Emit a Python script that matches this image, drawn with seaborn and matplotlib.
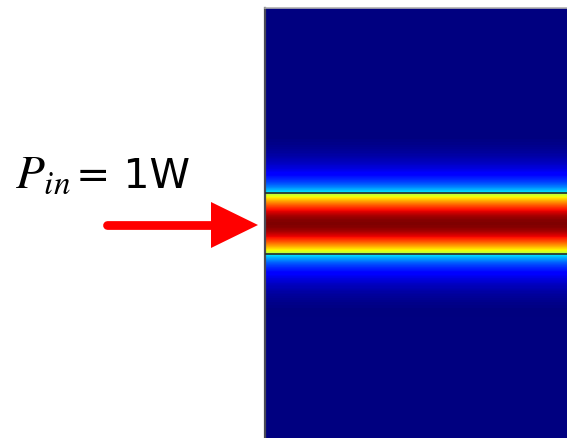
import numpy as np
import matplotlib
matplotlib.use("Agg")
import matplotlib.pyplot as plt
from matplotlib.patches import Rectangle, Polygon
from matplotlib.lines import Line2D
import seaborn as sns

# Normalised mode intensity |E|^2 across the slab waveguide.
# Offsets are measured from the core centre, in units of the core width.
core_offset = [0.00, 0.05, 0.10, 0.15, 0.20, 0.25, 0.30, 0.35, 0.40, 0.45, 0.50]
core_intensity = [1.000, 0.994, 0.978, 0.951, 0.914, 0.869, 0.817, 0.758, 0.694, 0.625, 0.555]

clad_offset = [0.50, 0.55, 0.60, 0.65, 0.70, 0.75, 0.80, 0.85, 0.90, 0.95, 1.00,
               1.05, 1.10, 1.15, 1.20, 1.25, 1.30, 1.35, 1.40, 1.45, 1.50]
clad_intensity = [0.370, 0.305, 0.255, 0.212, 0.178, 0.150, 0.125, 0.103, 0.085, 0.070, 0.057,
                  0.046, 0.036, 0.028, 0.021, 0.015, 0.010, 0.006, 0.003, 0.001, 0.000]

core_half_width = 0.5
input_power_label = "= 1W"

sns.set_style("white")
plt.rcParams["mathtext.fontset"] = "stix"
cmap = matplotlib.colormaps["jet"]

W, H, DPI = 567, 438, 100
fig = plt.figure(figsize=(W / DPI, H / DPI), dpi=DPI)

# Field map axes: left and top edges visible, the rest runs off the page.
half_span = 3.55
ax = fig.add_axes([265 / W, 1 - 439.7 / H, 330 / W, 431.7 / H])
ax.set_facecolor(cmap(0.0))
ax.set_xlim(0, 1)
ax.set_ylim(-half_span, half_span)


def draw_band(offsets, values, lo, hi):
    offsets = np.asarray(offsets)
    values = np.asarray(values)[:, None]
    step = offsets[1] - offsets[0]
    im = ax.imshow(values, extent=(0, 1, offsets[0] - step / 2, offsets[-1] + step / 2),
                   origin="lower", aspect="auto", interpolation="bilinear",
                   cmap=cmap, vmin=0, vmax=1, zorder=1)
    im.set_clip_path(Rectangle((0, lo), 1, hi - lo, transform=ax.transData))
    return im


# core: mirror the half profile
core_full_off = [-d for d in core_offset[:0:-1]] + core_offset
core_full_val = core_intensity[:0:-1] + core_intensity
draw_band(core_full_off, core_full_val, -core_half_width, core_half_width)

# upper and lower cladding
draw_band(clad_offset, clad_intensity, core_half_width, 2.0)
draw_band([-d for d in clad_offset[::-1]], clad_intensity[::-1], -2.0, -core_half_width)

# core/cladding interfaces
for s in (-1, 1):
    ax.axhline(s * core_half_width, color="#2a3833", lw=1.3, zorder=3)

ax.set_xticks([])
ax.set_yticks([])
for side in ("right", "bottom"):
    ax.spines[side].set_visible(False)
ax.spines["left"].set_color("#4a4a55")
ax.spines["left"].set_linewidth(1.6)
ax.spines["top"].set_color("#b0b0b0")
ax.spines["top"].set_linewidth(1.2)

# Annotation layer in page pixels
ov = fig.add_axes([0, 0, 1, 1], zorder=5)
ov.set_xlim(0, W)
ov.set_ylim(H, 0)
ov.axis("off")
ov.patch.set_alpha(0)

ov.text(15, 188, r"$P_{in}$", fontsize=34, color="black", va="baseline", ha="left")
ov.text(76, 188, input_power_label, fontsize=29.5, family="DejaVu Sans", color="black",
        va="baseline", ha="left")

ov.add_line(Line2D([107, 214], [225, 225], color="#ff0000", lw=6.3,
                   solid_capstyle="round"))
ov.add_patch(Polygon([[211, 202], [211, 248], [258, 225]], closed=True,
                     facecolor="#ff0000", edgecolor="none"))

fig.savefig("out.png", dpi=DPI)
